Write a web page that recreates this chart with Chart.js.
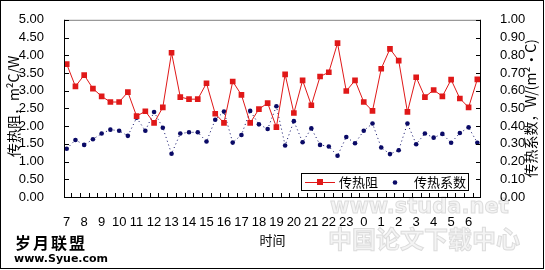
<!DOCTYPE html>
<html>
<head>
<meta charset="utf-8">
<script src="https://cdn.jsdelivr.net/npm/chart.js@4/dist/chart.umd.min.js"></script>
<style>
  body { margin: 0; background: #fff; }
  #wrap { width: 545px; height: 270px; }
</style>
</head>
<body>
<div id="wrap"><canvas id="grafico" width="545" height="270"></canvas></div>
<script>
const hours = ['7','8','9','10','11','12','13','14','15','16','17','18','19','20','21','22','23','0','1','2','3','4','5','6'];

// 传热阻 (m2C/W), two readings per hour
const resistance = [3.75,3.12,3.44,3.06,2.84,2.68,2.68,2.96,2.28,2.42,2.09,2.53,
  4.07,2.82,2.76,2.76,3.21,2.35,2.09,3.26,2.88,2.09,2.48,2.65,
  1.97,3.46,2.37,3.29,2.59,3.40,3.52,4.34,2.99,3.29,2.68,2.43,
  3.62,4.18,3.85,2.40,3.38,2.82,3.02,2.84,3.31,2.78,2.53,3.32];

// 传热系数 (W/(m2·C))
const coefficient = [0.272,0.322,0.294,0.326,0.358,0.380,0.374,0.345,0.447,0.374,0.480,0.391,
  0.244,0.358,0.365,0.365,0.313,0.436,0.482,0.307,0.350,0.486,0.410,0.384,
  0.512,0.291,0.428,0.309,0.387,0.294,0.285,0.233,0.339,0.303,0.374,0.415,
  0.279,0.242,0.264,0.415,0.298,0.358,0.335,0.356,0.306,0.361,0.393,0.306];

const leftTicks = [0,0.5,1,1.5,2,2.5,3,3.5,4,4.5,5];
const rightTicks = [0,0.1,0.2,0.3,0.4,0.5,0.6,0.7,0.8,0.9,1];

const red = '#e01818';
const navy = '#0a0a66';
const tickFont = { family: '"Liberation Sans", Arial, sans-serif', size: 13 };
const cjk = '"Noto Sans CJK SC", sans-serif';

// background watermarks, frame, inward ticks, titles and legend
const extras = {
  id: 'extras',
  beforeDraw(chart) {
    const ctx = chart.ctx;
    ctx.save();
    ctx.fillStyle = '#fff';
    ctx.fillRect(0, 0, chart.width, chart.height);
    ctx.textBaseline = 'middle';
    ctx.textAlign = 'left';
    ctx.font = 'bold 21px "DejaVu Sans", sans-serif';
    ctx.fillStyle = '#f4f4f4';
    ctx.strokeStyle = '#dcdcdc';
    ctx.lineWidth = 1;
    ctx.fillText('www.studa.net', 330, 208);
    ctx.strokeText('www.studa.net', 330, 208);
    ctx.font = 'bold 24px ' + cjk;
    ctx.fillText('中国论文下载中心', 328, 239);
    ctx.strokeText('中国论文下载中心', 328, 239);
    ctx.restore();
  },
  afterDraw(chart) {
    const ctx = chart.ctx;
    const a = chart.chartArea;
    const xs = chart.scales.x, yl = chart.scales.y, yr = chart.scales.y1;
    ctx.save();
    ctx.lineWidth = 1;

    // plot frame
    ctx.strokeStyle = '#808080';
    ctx.beginPath();
    ctx.moveTo(a.left, a.top + 0.5); ctx.lineTo(a.right, a.top + 0.5);
    ctx.stroke();
    ctx.strokeStyle = '#000';
    ctx.beginPath();
    ctx.moveTo(a.left + 0.5, a.top); ctx.lineTo(a.left + 0.5, a.bottom + 0.5);
    ctx.lineTo(a.right - 0.5, a.bottom + 0.5); ctx.lineTo(a.right - 0.5, a.top);
    ctx.stroke();

    // inward tick marks
    ctx.beginPath();
    leftTicks.forEach(v => {
      const y = Math.round(yl.getPixelForValue(v)) + 0.5;
      ctx.moveTo(a.left, y); ctx.lineTo(a.left + 5, y);
    });
    rightTicks.forEach(v => {
      const y = Math.round(yr.getPixelForValue(v)) + 0.5;
      ctx.moveTo(a.right, y); ctx.lineTo(a.right - 5, y);
    });
    for (let i = 0; i < resistance.length - 1; i++) {
      const x = Math.round(xs.getPixelForValue(i + 0.5)) + 0.5;
      ctx.moveTo(x, a.bottom); ctx.lineTo(x, a.bottom - 4);
    }
    ctx.stroke();

    // outer border
    ctx.strokeRect(0.5, 0.5, 543, 268);

    // axis titles
    ctx.fillStyle = '#000';
    ctx.textAlign = 'center';
    ctx.textBaseline = 'middle';
    ctx.font = '14px ' + cjk;
    const midY = (a.top + a.bottom) / 2;
    ctx.save();
    ctx.translate(14, midY - 2);
    ctx.rotate(-Math.PI / 2);
    ctx.fillText('传热阻，m²C/W', 0, 0);
    ctx.restore();
    ctx.save();
    ctx.translate(531, midY);
    ctx.rotate(-Math.PI / 2);
    ctx.fillText('传热系数，W/(m²·C)', 0, 0);
    ctx.restore();
    ctx.font = '13px ' + cjk;
    ctx.fillText('时间', (a.left + a.right) / 2, 240);

    // site mark
    ctx.textAlign = 'left';
    ctx.font = 'bold 16px ' + cjk;
    ['岁','月','联','盟'].forEach((c, i) => ctx.fillText(c, 15 + i * 18, 243));
    ctx.font = 'bold 11px "DejaVu Sans", sans-serif';
    ctx.fillText('www.Syue.com', 14, 259);

    // legend
    ctx.fillStyle = '#fff';
    ctx.fillRect(301, 173, 167, 17);
    ctx.strokeStyle = '#000';
    ctx.strokeRect(301.5, 173.5, 167, 17);
    ctx.strokeStyle = red;
    ctx.beginPath();
    ctx.moveTo(305, 182.5); ctx.lineTo(335, 182.5);
    ctx.stroke();
    ctx.fillStyle = red;
    ctx.fillRect(317, 179, 6, 6);
    ctx.fillStyle = navy;
    ctx.beginPath();
    ctx.arc(395, 182.5, 2.3, 0, Math.PI * 2);
    ctx.fill();
    ctx.fillStyle = '#000';
    ctx.font = '13px ' + cjk;
    ctx.fillText('传热阻', 339, 182);
    ctx.fillText('传热系数', 414, 182);
    ctx.restore();
  }
};

new Chart(document.getElementById('grafico'), {
  type: 'line',
  data: {
    datasets: [{
      label: '传热阻',
      data: resistance.map((v, i) => ({ x: i, y: v })),
      yAxisID: 'y',
      borderColor: red,
      backgroundColor: red,
      borderWidth: 1,
      pointStyle: 'rect',
      pointRadius: 4,
      pointBorderWidth: 0,
      tension: 0
    }, {
      label: '传热系数',
      data: coefficient.map((v, i) => ({ x: i, y: v })),
      yAxisID: 'y1',
      borderColor: navy,
      backgroundColor: navy,
      borderWidth: 1,
      borderDash: [1, 3],
      pointStyle: 'circle',
      pointRadius: 2.3,
      pointBorderWidth: 0,
      tension: 0
    }]
  },
  options: {
    responsive: false,
    animation: false,
    devicePixelRatio: 1,
    layout: { padding: { left: 0, right: 0, top: 18, bottom: 0 } },
    plugins: { legend: { display: false }, tooltip: { enabled: false } },
    scales: {
      x: {
        type: 'linear',
        min: -0.31,
        max: 47.42,
        grid: { display: false },
        border: { display: false },
        afterBuildTicks: s => { s.ticks = hours.map((h, i) => ({ value: i * 2 })); },
        afterFit: s => { s.height = 73; },
        ticks: {
          autoSkip: false,
          maxRotation: 0,
          padding: 10,
          color: '#000',
          font: tickFont,
          callback: v => hours[v / 2]
        }
      },
      y: {
        position: 'left',
        min: 0,
        max: 5,
        grid: { display: false },
        border: { display: false },
        afterBuildTicks: s => { s.ticks = leftTicks.map(v => ({ value: v })); },
        afterFit: s => { s.width = 64; },
        ticks: { autoSkip: false, padding: 12, color: '#000', font: tickFont, callback: v => v.toFixed(2) }
      },
      y1: {
        position: 'right',
        min: 0,
        max: 1,
        grid: { display: false },
        border: { display: false },
        afterBuildTicks: s => { s.ticks = rightTicks.map(v => ({ value: v })); },
        afterFit: s => { s.width = 64; },
        ticks: { autoSkip: false, padding: 11, color: '#000', font: tickFont, callback: v => v.toFixed(2) }
      }
    }
  },
  plugins: [extras]
});
</script>
</body>
</html>
